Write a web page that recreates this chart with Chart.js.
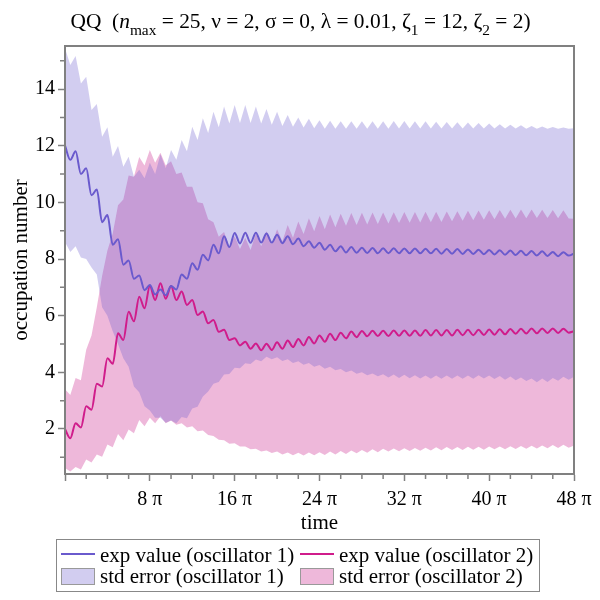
<!DOCTYPE html>
<html>
<head>
<meta charset="utf-8">
<script src="https://cdn.jsdelivr.net/npm/chart.js@4.4.1/dist/chart.umd.min.js"></script>
<style>
  html, body { margin: 0; padding: 0; background: #fff; }
  #wrap { position: relative; width: 600px; height: 600px; font-family: 'Liberation Serif', serif; color: #000; }
  #chart { position: absolute; left: 0; top: 0; }
  #title { position: absolute; left: 0; top: 9px; width: 601px; text-align: center;
           font-size: 21.4px; line-height: 24px; white-space: nowrap; }
  .sb { position: relative; top: 0.45em; font-size: 0.72em; }
  #legend { position: absolute; left: 56px; top: 538.5px; width: 484px; height: 53.5px;
            box-sizing: border-box; border: 1.5px solid #888; }
  .item { position: absolute; display: flex; align-items: center; height: 20px;
          font-size: 21px; white-space: nowrap; }
  .line { width: 34px; height: 2px; margin-right: 5px; position: relative; top: -2px; }
  .box { width: 34px; height: 17px; margin-right: 5px; box-sizing: border-box; border: 1.5px solid #999; }
</style>
</head>
<body>
<div id="wrap">
  <canvas id="chart" width="600" height="600"></canvas>
  <div id="title">QQ&nbsp; (<i>n</i><span class="sb">max</span> = 25, ν = 2, σ = 0, λ = 0.01, ζ<span class="sb">1</span> = 12, ζ<span class="sb">2</span> = 2)</div>
  <div id="legend">
    <div class="item" style="left:4px;top:6px"><span class="line" id="lg1"></span>exp value (oscillator 1)</div>
    <div class="item" style="left:243px;top:6px"><span class="line" id="lg2"></span>exp value (oscillator 2)</div>
    <div class="item" style="left:4px;top:27px"><span class="box" id="lg3"></span>std error (oscillator 1)</div>
    <div class="item" style="left:243px;top:27px"><span class="box" id="lg4"></span>std error (oscillator 2)</div>
  </div>
</div>
<script>
/* ---------------- DATA (time in units of pi, one sample every half pi) ---------------- */

const timeStep = 0.5;

const blueMean = [
  12.0, 11.5, 11.8, 11.0, 11.2, 10.25, 10.45, 9.3, 9.55, 8.5,
  8.7, 7.8, 7.95, 7.3, 7.42, 6.9, 7.08, 6.75, 6.92, 6.72,
  7.05, 6.92, 7.45, 7.3, 7.85, 7.62, 8.15, 7.95, 8.5, 8.2,
  8.8, 8.42, 8.92, 8.55, 8.93, 8.57, 8.93, 8.58, 8.9, 8.58,
  8.86, 8.56, 8.8, 8.52, 8.72, 8.45, 8.63, 8.4, 8.57, 8.33,
  8.5, 8.27, 8.45, 8.23, 8.42, 8.22, 8.4, 8.21, 8.39, 8.2,
  8.38, 8.2, 8.38, 8.2, 8.37, 8.2, 8.37, 8.2, 8.36, 8.2,
  8.36, 8.19, 8.35, 8.19, 8.35, 8.18, 8.34, 8.18, 8.33, 8.17,
  8.32, 8.16, 8.31, 8.15, 8.3, 8.14, 8.29, 8.13, 8.28, 8.12,
  8.27, 8.11, 8.25, 8.1, 8.24, 8.12, 8.2
];

const pinkMean = [
  2.0, 1.67, 2.2, 2.05, 2.8, 2.68, 3.6, 3.5, 4.5, 4.3,
  5.38, 5.14, 6.14, 5.8, 6.67, 6.26, 7.05, 6.55, 7.14, 6.6,
  7.05, 6.55, 6.85, 6.38, 6.55, 6.02, 6.15, 5.73, 5.85, 5.43,
  5.5, 5.14, 5.2, 4.95, 5.08, 4.83, 5.02, 4.78, 5.01, 4.79,
  5.06, 4.83, 5.12, 4.89, 5.18, 4.95, 5.25, 5.02, 5.3, 5.08,
  5.36, 5.14, 5.4, 5.2, 5.44, 5.24, 5.46, 5.27, 5.47, 5.28,
  5.47, 5.28, 5.48, 5.29, 5.48, 5.29, 5.48, 5.29, 5.49, 5.3,
  5.49, 5.3, 5.49, 5.3, 5.5, 5.31, 5.5, 5.31, 5.5, 5.32,
  5.51, 5.33, 5.52, 5.34, 5.53, 5.36, 5.54, 5.37, 5.55, 5.38,
  5.55, 5.39, 5.55, 5.39, 5.54, 5.4, 5.45
];

const blueUpper = [
  15.44, 14.85, 15.17, 14.2, 14.43, 13.26, 13.47, 12.32, 12.65, 11.61,
  11.99, 11.26, 11.61, 10.9, 11.15, 10.85, 11.4, 11.0, 11.7, 11.2,
  11.85, 11.5, 12.2, 11.8, 12.67, 12.2, 12.97, 12.45, 13.2, 12.65,
  13.38, 12.78, 13.44, 12.8, 13.44, 12.8, 13.38, 12.78, 13.3, 12.74,
  13.2, 12.7, 13.08, 12.67, 13.0, 12.64, 12.95, 12.62, 12.9, 12.6,
  12.88, 12.6, 12.86, 12.6, 12.86, 12.6, 12.86, 12.6, 12.86, 12.6,
  12.86, 12.6, 12.87, 12.61, 12.87, 12.61, 12.86, 12.61, 12.86, 12.61,
  12.85, 12.61, 12.84, 12.61, 12.83, 12.61, 12.82, 12.61, 12.8, 12.61,
  12.78, 12.61, 12.76, 12.61, 12.74, 12.61, 12.72, 12.6, 12.7, 12.6,
  12.68, 12.6, 12.66, 12.6, 12.64, 12.6, 12.62
];

const blueLower = [
  8.6, 8.25, 8.45, 8.05, 8.0, 7.7, 7.45, 6.3, 6.0, 5.45,
  5.0, 4.5, 4.2, 3.5, 3.3, 2.8, 2.65, 2.4, 2.4, 2.22,
  2.3, 2.2, 2.42, 2.38, 2.72, 2.78, 3.15, 3.32, 3.6, 3.66,
  3.92, 3.94, 4.16, 4.14, 4.32, 4.29, 4.45, 4.39, 4.55, 4.46,
  4.53, 4.4, 4.46, 4.33, 4.39, 4.27, 4.33, 4.2, 4.26, 4.13,
  4.2, 4.07, 4.12, 4.0, 4.06, 3.95, 4.0, 3.9, 3.96, 3.86,
  3.93, 3.82, 3.92, 3.8, 3.91, 3.79, 3.9, 3.78, 3.89, 3.77,
  3.89, 3.77, 3.89, 3.77, 3.89, 3.77, 3.89, 3.77, 3.9, 3.78,
  3.89, 3.76, 3.87, 3.74, 3.85, 3.72, 3.82, 3.69, 3.78, 3.65,
  3.78, 3.66, 3.8, 3.7, 3.84, 3.74, 3.84
];

const pinkUpper = [
  3.4, 3.2, 3.8, 3.72, 4.8, 5.3, 6.3, 7.4, 8.3, 8.9,
  9.9, 10.1, 10.95, 10.9, 11.6, 11.3, 11.85, 11.4, 11.75, 11.3,
  11.45, 11.0, 11.05, 10.55, 10.55, 10.0, 9.97, 9.4, 9.3, 8.79,
  8.95, 8.43, 8.8, 8.35, 8.75, 8.32, 8.9, 8.45, 8.98, 8.52,
  9.05, 8.62, 9.2, 8.75, 9.32, 8.88, 9.44, 8.98, 9.52, 9.05,
  9.57, 9.12, 9.6, 9.17, 9.62, 9.2, 9.63, 9.22, 9.64, 9.24,
  9.64, 9.25, 9.65, 9.27, 9.66, 9.28, 9.66, 9.29, 9.67, 9.3,
  9.67, 9.31, 9.68, 9.33, 9.69, 9.35, 9.7, 9.37, 9.71, 9.39,
  9.72, 9.4, 9.73, 9.42, 9.74, 9.43, 9.75, 9.44, 9.75, 9.45,
  9.74, 9.45, 9.73, 9.44, 9.72, 9.43, 9.42
];

const pinkLower = [
  0.62, 0.5, 0.66, 0.57, 0.92, 0.82, 1.1, 1.02, 1.45, 1.35,
  1.82, 1.6, 1.98, 1.85, 2.32, 2.1, 2.4, 2.2, 2.45, 2.2,
  2.3, 2.15, 2.2, 2.05, 2.1, 1.92, 1.95, 1.79, 1.75, 1.62,
  1.6, 1.48, 1.5, 1.38, 1.38, 1.28, 1.3, 1.2, 1.24, 1.15,
  1.2, 1.1, 1.17, 1.07, 1.16, 1.06, 1.17, 1.07, 1.18, 1.08,
  1.2, 1.1, 1.22, 1.12, 1.24, 1.14, 1.26, 1.16, 1.28, 1.18,
  1.3, 1.2, 1.31, 1.21, 1.32, 1.22, 1.33, 1.23, 1.34, 1.24,
  1.35, 1.25, 1.36, 1.26, 1.36, 1.26, 1.37, 1.27, 1.37, 1.27,
  1.38, 1.28, 1.38, 1.28, 1.39, 1.29, 1.4, 1.3, 1.41, 1.31,
  1.42, 1.32, 1.43, 1.33, 1.44, 1.34, 1.42
];

const xTickValues = [0, 8, 16, 24, 32, 40, 48];
const xMinorTicks = [2, 4, 6, 10, 12, 14, 18, 20, 22, 26, 28, 30, 34, 36, 38, 42, 44, 46];
const yTickValues = [2, 4, 6, 8, 10, 12, 14];
const yMinorTicks = [1, 3, 5, 7, 9, 11, 13, 15];

const times = blueMean.map((_, i) => i * timeStep);

/* ---------------- STYLE ---------------- */

const serif = "'Liberation Serif', 'Times New Roman', serif";
const axisGrey = '#808080';
const blueLine = '#6a5acd';
const pinkLine = '#d01c8b';
const blueBand = 'rgba(106,90,205,0.3)';
const pinkBand = 'rgba(199,21,133,0.3)';
const clear = 'rgba(0,0,0,0)';

document.getElementById('lg1').style.background = blueLine;
document.getElementById('lg2').style.background = pinkLine;
document.getElementById('lg3').style.background = blueBand;
document.getElementById('lg4').style.background = pinkBand;

/* ---------------- MINOR TICKS + FRAME ---------------- */

const frameAndMinor = {
  id: 'frameAndMinor',
  afterDraw(chart) {
    const { ctx, chartArea: a, scales: { x, y } } = chart;
    ctx.save();
    ctx.strokeStyle = axisGrey;
    ctx.lineWidth = 1.5;
    ctx.beginPath();
    xMinorTicks.forEach(v => {
      const px = x.getPixelForValue(v);
      ctx.moveTo(px, a.bottom);
      ctx.lineTo(px, a.bottom + 5);
    });
    yMinorTicks.forEach(v => {
      const py = y.getPixelForValue(v);
      ctx.moveTo(a.left, py);
      ctx.lineTo(a.left - 5, py);
    });
    ctx.stroke();
    ctx.lineWidth = 2;
    ctx.strokeRect(a.left, a.top, a.right - a.left, a.bottom - a.top);
    ctx.restore();
  }
};

/* ---------------- CHART ---------------- */

const bandEdge = (data, fill, color, order) => ({
  data: data,
  borderColor: clear,
  borderWidth: 0,
  backgroundColor: color,
  pointRadius: 0,
  fill: fill,
  order: order
});

new Chart(document.getElementById('chart').getContext('2d'), {
  type: 'line',
  data: {
    labels: times,
    datasets: [
      { data: blueMean, borderColor: blueLine, borderWidth: 2, pointRadius: 0,
        cubicInterpolationMode: 'monotone', fill: false, order: 0 },
      { data: pinkMean, borderColor: pinkLine, borderWidth: 2, pointRadius: 0,
        cubicInterpolationMode: 'monotone', fill: false, order: 0 },
      bandEdge(blueUpper, '+1', blueBand, 1),
      bandEdge(blueLower, false, clear, 1),
      bandEdge(pinkUpper, '+1', pinkBand, 2),
      bandEdge(pinkLower, false, clear, 2)
    ]
  },
  options: {
    responsive: false,
    animation: false,
    events: [],
    layout: { padding: { top: 46, right: 26, bottom: 0, left: 0 } },
    plugins: {
      legend: { display: false },
      tooltip: { enabled: false }
    },
    scales: {
      x: {
        type: 'linear',
        min: 0,
        max: 48,
        afterBuildTicks: s => { s.ticks = xTickValues.map(v => ({ value: v })); },
        afterFit: s => { s.height = 126; },
        ticks: {
          callback: v => v === 0 ? '' : v + ' π',
          color: '#000',
          font: { family: serif, size: 20 },
          padding: 7,
          maxRotation: 0,
          autoSkip: false
        },
        grid: { drawOnChartArea: false, tickLength: 7, tickWidth: 1.5, tickColor: axisGrey },
        border: { color: axisGrey, width: 2 },
        title: {
          display: true,
          text: 'time',
          color: '#000',
          font: { family: serif, size: 21 },
          padding: { top: 0, bottom: 64 }
        }
      },
      y: {
        min: 0.41,
        max: 15.52,
        afterBuildTicks: s => { s.ticks = yTickValues.map(v => ({ value: v })); },
        afterFit: s => { s.width = 65; },
        ticks: {
          color: '#000',
          font: { family: serif, size: 20 },
          padding: 3
        },
        grid: { drawOnChartArea: false, tickLength: 7, tickWidth: 1.5, tickColor: axisGrey },
        border: { color: axisGrey, width: 2 },
        title: {
          display: true,
          text: 'occupation number',
          color: '#000',
          font: { family: serif, size: 21 },
          padding: { top: 9, bottom: 0 }
        }
      }
    }
  },
  plugins: [frameAndMinor]
});
</script>
</body>
</html>
